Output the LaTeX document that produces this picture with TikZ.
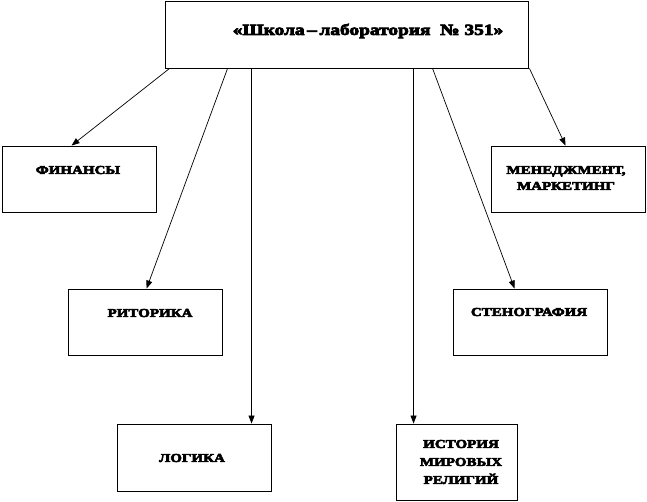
\documentclass[tikz,border=0pt]{standalone}
\usepackage{fontspec}
\setmainfont{Liberation Serif}
\newfontfamily\lblfont[BoldFeatures={FakeBold=5,FakeStretch=1.25}]{Liberation Serif}
\usetikzlibrary{arrows.meta,calc}
\tikzset{
  boxnode/.style={draw=black, line width=0.9pt, inner sep=0pt, fill=white},
  lbl/.style={font=\fontsize{12}{16}\lblfont\bfseries, align=center, inner sep=0pt},
  conn/.style={line width=0.7pt, -{Triangle[length=8pt,width=6pt]}}
}
\begin{document}
\begin{tikzpicture}[x=1pt,y=-1pt]
\useasboundingbox (0,0) rectangle (647,501);
\node[boxnode, minimum width=363pt, minimum height=67pt] (top) at (346.5,34.5) {};
\node[lbl, font=\fontsize{15.5}{18}\lblfont\bfseries] (ttop) at (368,31) {«Школа\,–\,лаборатория~~№~351»};
\node[boxnode, minimum width=154pt, minimum height=66pt] (fin) at (79,179) {};
\node[lbl] (tfin) at (78,170) {ФИНАНСЫ};
\node[boxnode, minimum width=154pt, minimum height=66pt] (men) at (568,179) {};
\node[lbl] (tmen) at (566,178) {МЕНЕДЖМЕНТ,\\МАРКЕТИНГ};
\node[boxnode, minimum width=154pt, minimum height=66pt] (rit) at (145,322) {};
\node[lbl] (trit) at (150,313) {РИТОРИКА};
\node[boxnode, minimum width=154pt, minimum height=66pt] (sten) at (530,322) {};
\node[lbl] (tsten) at (529,312) {СТЕНОГРАФИЯ};
\node[boxnode, minimum width=154pt, minimum height=67pt] (log) at (194,457.5) {};
\node[lbl] (tlog) at (192,458) {ЛОГИКА};
\node[boxnode, minimum width=121pt, minimum height=76pt] (ist) at (456.5,462) {};
\node[lbl, font=\fontsize{12}{18}\lblfont\bfseries] (tist) at (461,462) {ИСТОРИЯ\\МИРОВЫХ\\РЕЛИГИЙ};
\draw[conn] ($(top.south west)+(5,0)$) -- ($(fin.north west)+(70,0)$);
\draw[conn] ($(top.south west)+(63,0)$) -- ($(rit.north west)+(79,0)$);
\draw[conn] ($(top.south west)+(87,0)$) -- ($(log.north west)+(135,0)$);
\draw[conn] ($(top.south west)+(249,0)$) -- ($(ist.north west)+(18,0)$);
\draw[conn] ($(top.south west)+(268,0)$) -- ($(sten.north west)+(62,0)$);
\draw[conn] ($(top.south east)+(1,0)$) -- ($(men.north west)+(75,0)$);
\end{tikzpicture}
\end{document}
